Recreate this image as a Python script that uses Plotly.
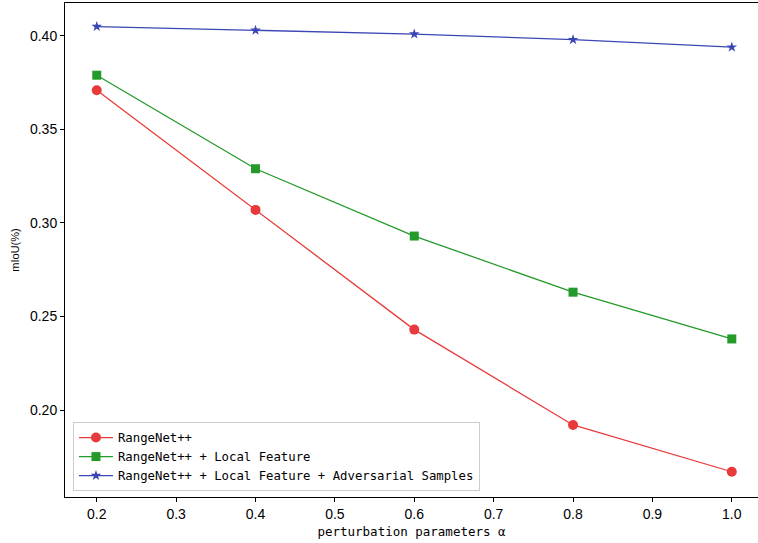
import plotly.graph_objects as go

alpha = [0.2, 0.4, 0.6, 0.8, 1.0]
rangenet = [0.371, 0.307, 0.243, 0.192, 0.167]
rangenet_local = [0.379, 0.329, 0.293, 0.263, 0.238]
rangenet_local_adv = [0.405, 0.403, 0.401, 0.398, 0.394]

names = ["RangeNet++", "RangeNet++ + Local Feature",
         "RangeNet++ + Local Feature + Adversarial Samples"]
colors = ["#e83a3a", "#249a2a", "#3a46b3"]
symbols = ["circle", "square", "star"]
sizes = [10, 9, 8]
series = [rangenet, rangenet_local, rangenet_local_adv]

mono = "DejaVu Sans Mono"
sans = "Liberation Sans"

fig = go.Figure()
for n, c, s, sz, y in zip(names, colors, symbols, sizes, series):
    fig.add_trace(go.Scatter(
        x=alpha, y=y, mode="lines+markers", name=n,
        line=dict(color=c, width=1.3),
        marker=dict(symbol=s, size=sz, color=c, line=dict(width=0)),
    ))

fig.update_layout(
    width=758, height=543,
    margin=dict(l=65, r=0, t=3, b=46, autoexpand=False),
    paper_bgcolor="white", plot_bgcolor="white",
    font=dict(family=mono, size=12, color="black"),
    showlegend=True,
    legend=dict(
        x=0.0115, y=0.012, xanchor="left", yanchor="bottom",
        bgcolor="white", bordercolor="#cccccc", borderwidth=1,
        font=dict(family=mono, size=12.3, color="black"),
        tracegroupgap=0, itemwidth=34,
    ),
)
fig.update_xaxes(
    range=[0.16, 1.033], tickvals=alpha + [0.3, 0.5, 0.7, 0.9],
    tickformat=".1f", automargin=False,
    showgrid=False, zeroline=False,
    showline=True, linecolor="black", linewidth=1, mirror=True,
    ticks="outside", ticklen=4, tickcolor="black",
    tickfont=dict(family=sans, size=14),
    title=dict(text="perturbation parameters α", font=dict(family=mono, size=12.5), standoff=6),
)
fig.update_yaxes(
    range=[0.1535, 0.4176], tickvals=[0.20, 0.25, 0.30, 0.35, 0.40],
    tickformat=".2f", automargin=False,
    showgrid=False, zeroline=False,
    showline=True, linecolor="black", linewidth=1, mirror=False,
    ticks="outside", ticklen=4, tickcolor="black",
    tickfont=dict(family=sans, size=14),
    title=dict(text="mIoU(%)", font=dict(family=sans, size=11), standoff=8),
)

fig.write_html(
    "out.html",
    config={"displayModeBar": False},
    post_script="document.body.style.margin='0';document.body.style.overflow='hidden';",
)
